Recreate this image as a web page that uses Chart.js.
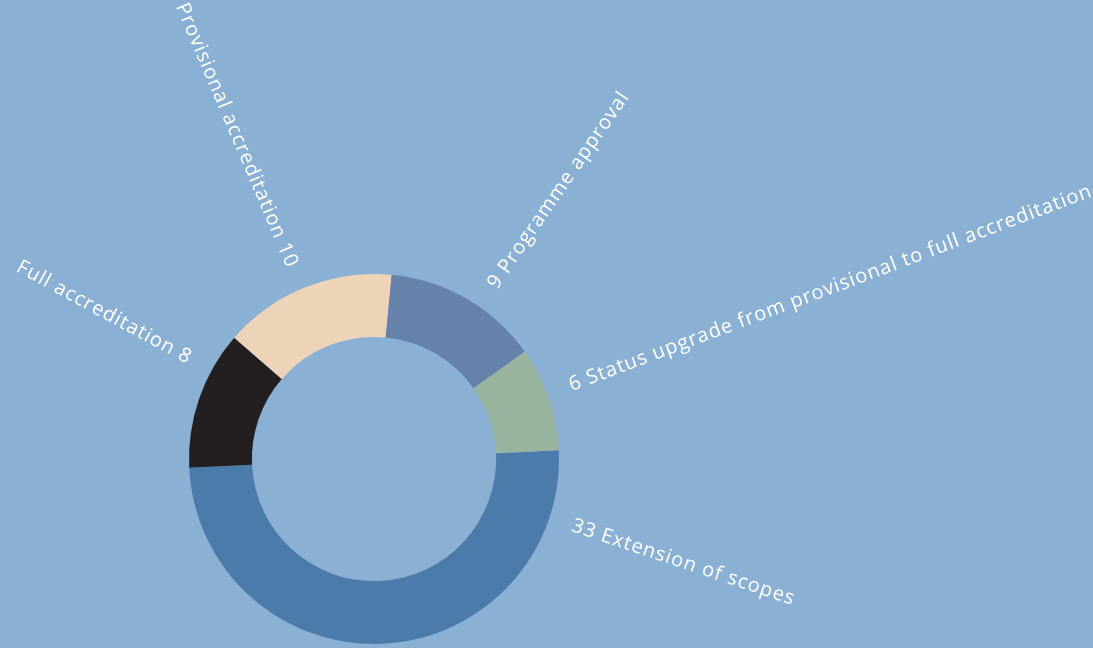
<!DOCTYPE html>
<html>
<head>
<meta charset="utf-8">
<script src="https://cdn.jsdelivr.net/npm/chart.js@4.4.1/dist/chart.umd.min.js"></script>
<style>
  html, body { margin: 0; padding: 0; background: #8AB1D3; }
  #wrap { width: 1093px; height: 648px; }
</style>
</head>
<body>
<div id="wrap"><canvas id="accChart" width="1093" height="648"></canvas></div>
<script>
// Accreditation activities (counts)
const categories = [
    'Extension of scopes',
    'Full accreditation',
    'Provisional accreditation',
    'Programme approval',
    'Status upgrade from provisional to full accreditation'
];
const counts = [33, 8, 10, 9, 6];
const sliceColors = ['#4A7BAB', '#231F20', '#EDD4B8', '#6681AA', '#98B39E'];

// draws the rotated labels outside the ring
const radialLabels = {
    id: 'radialLabels',
    afterDatasetsDraw(chart, args, opts) {
        const ctx = chart.ctx;
        const meta = chart.getDatasetMeta(0);
        const values = chart.data.datasets[0].data;
        meta.data.forEach(function(arc, i) {
            const deg = opts.angles[i];
            const rad = deg * Math.PI / 180;
            const r = arc.outerRadius + opts.gap;
            const x = arc.x + Math.sin(rad) * r;
            const y = arc.y - Math.cos(rad) * r;
            const rightSide = deg < 180;
            ctx.save();
            ctx.translate(x, y);
            ctx.font = opts.font;
            ctx.letterSpacing = opts.spacing;
            ctx.fillStyle = opts.color;
            ctx.textBaseline = 'middle';
            if (rightSide) {
                ctx.rotate(rad - Math.PI / 2);
                ctx.textAlign = 'left';
                ctx.fillText(values[i] + ' ' + chart.data.labels[i], 0, 0);
            } else {
                ctx.rotate(rad + Math.PI / 2);
                ctx.textAlign = 'right';
                ctx.fillText(chart.data.labels[i] + ' ' + values[i], 0, 0);
            }
            ctx.restore();
        });
    }
};

new Chart(document.getElementById('accChart').getContext('2d'), {
    type: 'doughnut',
    data: {
        labels: categories,
        datasets: [{
            data: counts,
            backgroundColor: sliceColors,
            borderWidth: 0
        }]
    },
    options: {
        responsive: false,
        animation: false,
        rotation: 87.3,
        cutout: '66%',
        layout: {
            padding: { left: 189, right: 534, top: 274, bottom: 4 }
        },
        plugins: {
            legend: { display: false },
            tooltip: { enabled: false },
            radialLabels: {
                angles: [108.5, 298.5, 337, 34.5, 69.5],
                gap: 24,
                font: '20px "Open Sans"',
                spacing: '1px',
                color: '#FFFFFF'
            }
        }
    },
    plugins: [radialLabels]
});
</script>
</body>
</html>
